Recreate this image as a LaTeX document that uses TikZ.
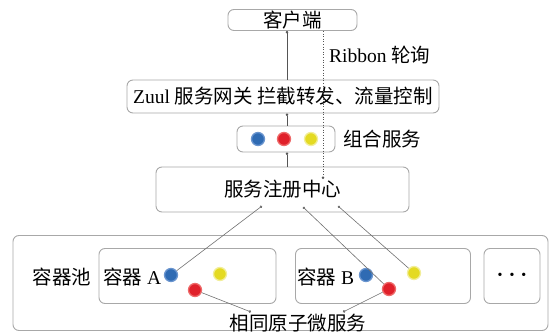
\documentclass[tikz,border=0pt]{standalone}
\usepackage{fontspec}
\setmainfont{Liberation Serif}
\newfontfamily\cjk{Noto Sans CJK SC}
\usetikzlibrary{arrows.meta}
\definecolor{boxgray}{HTML}{A8A8A8}
\definecolor{linegray}{HTML}{555555}
\definecolor{diaggray}{HTML}{707070}
\definecolor{bluefill}{HTML}{2F6BB3}
\definecolor{bluerim}{HTML}{6A95CF}
\definecolor{redfill}{HTML}{E0202A}
\definecolor{redrim}{HTML}{EE6A6A}
\definecolor{yelfill}{HTML}{E4DA22}
\definecolor{yelrim}{HTML}{F2EE9A}
\begin{document}
\begin{tikzpicture}[x=1pt,y=-1pt,
  box/.style={draw=boxgray, rounded corners=6pt, line width=0.9pt, inner sep=0pt,
    font=\fontsize{19.5}{21}\selectfont},
  lbl/.style={inner sep=0pt, font=\fontsize{19.5}{21}\selectfont},
  conn/.style={draw=linegray, line width=0.6pt, -{Circle[length=2.6pt]}},
  dconn/.style={draw=diaggray, line width=0.6pt, -{Circle[length=2.6pt]}},
  dotconn/.style={draw=linegray, line width=0.6pt, dotted, -{Circle[length=2.6pt]}},
  ball/.style={circle, minimum size=13pt, inner sep=0pt, line width=1.3pt},
  bball/.style={ball, fill=bluefill, draw=bluerim},
  rball/.style={ball, fill=redfill, draw=redrim},
  yball/.style={ball, fill=yelfill, draw=yelrim}]
\useasboundingbox (0,0) rectangle (558,336);
% boxes
\node[box, minimum width=129pt, minimum height=21pt] (client) at (292.5,20) {\cjk 客户端};
\node[box, minimum width=312pt, minimum height=33pt] (gw) at (283,96.5) {Zuul {\cjk 服务网关 拦截转发、流量控制}};
\node[box, minimum width=98pt, minimum height=26pt] (combo) at (286,139) {};
\node[lbl, anchor=west] (combolbl) at (343,139) {\cjk 组合服务};
\node[box, minimum width=253pt, minimum height=45pt] (reg) at (282.5,189.5) {\cjk 服务注册中心};
\node[box, minimum width=535pt, minimum height=95pt] (pool) at (280.5,283) {};
\node[box, minimum width=177pt, minimum height=55pt] (boxA) at (187.5,276) {};
\node[box, minimum width=175pt, minimum height=55pt] (boxB) at (383,276) {};
\node[box, minimum width=56pt, minimum height=55pt, font=\fontsize{14}{16}\selectfont] (boxC) at (512,276) {\textbullet\hspace{7pt}\textbullet\hspace{7pt}\textbullet};
\node[lbl] (pooll) at (62,277) {\cjk 容器池};
\node[lbl, anchor=west] (la) at (103,277) {{\cjk 容器} A};
\node[lbl, anchor=west] (lb) at (297,277) {{\cjk 容器} B};
\node[lbl] (same) at (298,323) {\cjk 相同原子微服务};
\node[lbl, anchor=west] (rib) at (329,55) {Ribbon {\cjk 轮询}};
% balls
\node[bball] (cb) at (258,139) {};
\node[rball] (cr) at (284,139) {};
\node[yball] (cy) at (311,139) {};
\node[bball] (ab) at (171,275) {};
\node[yball] (ay) at (220,274) {};
\node[rball] (ar) at (195,290) {};
\node[bball] (bb) at (366,275) {};
\node[rball] (br) at (389,289) {};
\node[yball] (by) at (414,273) {};
% connector endpoints
\coordinate (r1) at (262,206);
\coordinate (r2) at (303,207);
\coordinate (r3) at (338,206);
\coordinate (s1) at (251,312);
\coordinate (s2) at (343,312);
\coordinate (rtop) at (323,179);
% connectors
\draw[conn] (gw.north -| 287,0) -- (client.south -| 287,0);
\draw[conn] (combo.north -| 287,0) -- (gw.south -| 287,0);
\draw[conn] (reg.north -| 287,0) -- (combo.south -| 287,0);
\draw[dotconn] (client.south -| rtop) -- (rtop);
\draw[dconn] (ab) -- (r1);
\draw[dconn] (br) -- (r2);
\draw[dconn] (by) -- (r3);
\draw[dconn] (ar) -- (s1);
\draw[dconn] (br) -- (s2);
\end{tikzpicture}
\end{document}
